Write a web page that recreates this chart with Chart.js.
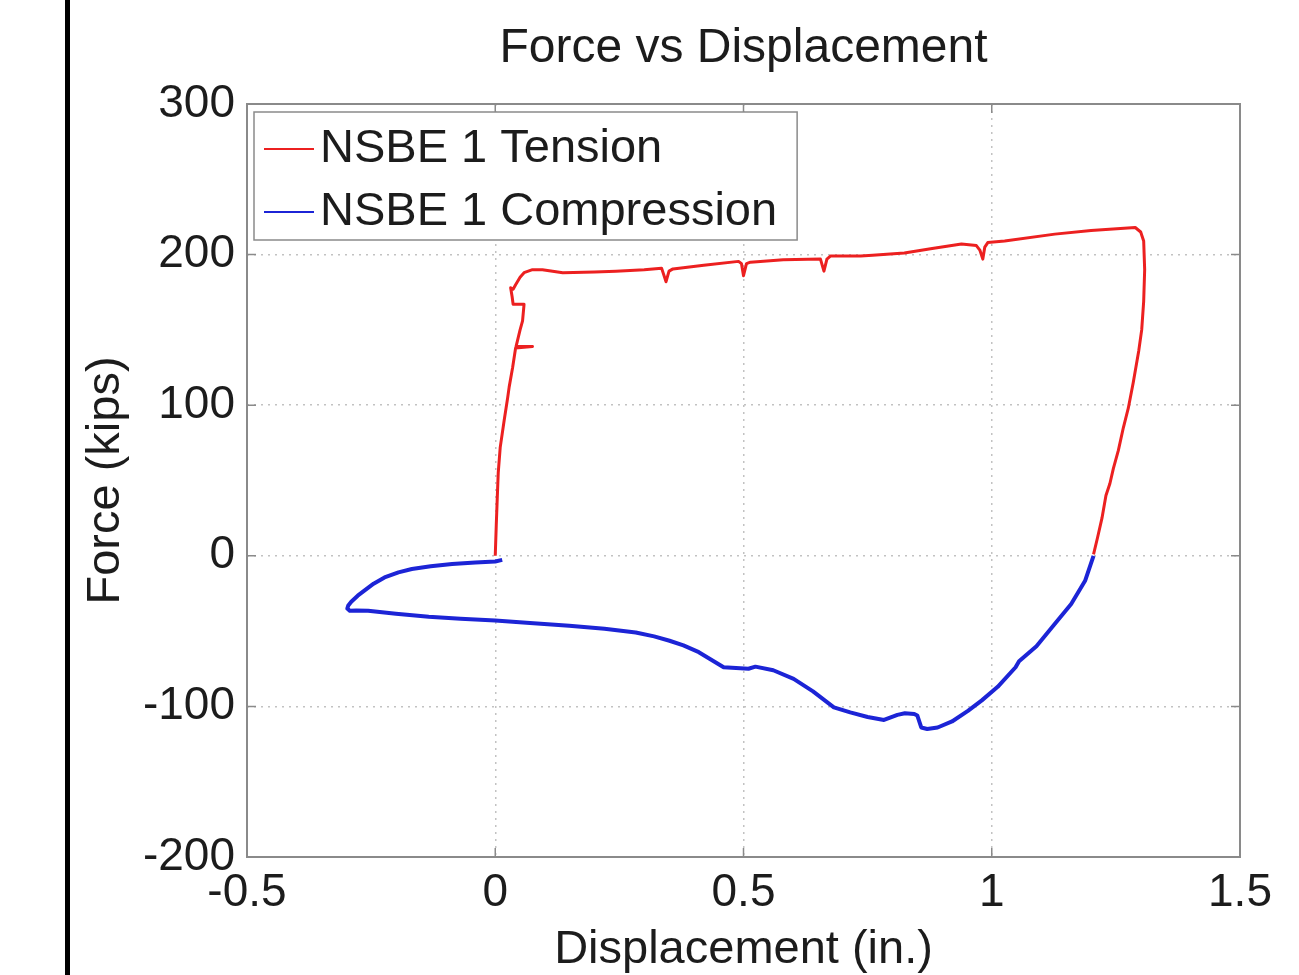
<!DOCTYPE html>
<html>
<head>
<meta charset="utf-8">
<title>Force vs Displacement</title>
<script src="https://cdn.jsdelivr.net/npm/chart.js@4.4.1/dist/chart.umd.min.js"></script>
<style>
  html,body{margin:0;padding:0;background:#fff;}
  .wrap{position:relative;width:1299px;height:975px;overflow:hidden;}
  .wrap canvas{position:absolute;left:0;top:0;}
  .edge{position:absolute;left:65px;top:0;width:5px;height:975px;background:#000;}
</style>
</head>
<body>
<div class="wrap">
  <canvas id="fd" width="1299" height="975"></canvas>
  <div class="edge"></div>
</div>
<script>
  // displacement (in.) / force (kips)
  const tensionX = [0, 0.002, 0.004, 0.006, 0.010, 0.018, 0.025, 0.028, 0.035, 0.041, 0.075, 0.042, 0.050, 0.055, 0.058, 0.036, 0.034, 0.031, 0.036, 0.041, 0.050, 0.058, 0.075, 0.095, 0.136, 0.20, 0.243, 0.30, 0.335, 0.344, 0.350, 0.358, 0.42, 0.49, 0.496, 0.500, 0.506, 0.514, 0.58, 0.655, 0.662, 0.668, 0.675, 0.736, 0.76, 0.824, 0.88, 0.939, 0.969, 0.976, 0.982, 0.986, 0.992, 1.026, 1.127, 1.20, 1.289, 1.300, 1.306, 1.308, 1.306, 1.302, 1.296, 1.285, 1.275, 1.265, 1.255, 1.245, 1.238, 1.230, 1.222, 1.213, 1.205];
  const tensionY = [0, 20, 38, 55, 72, 90, 105, 112, 125, 138, 139, 139, 150, 156, 167, 167, 172, 178, 177, 180, 185, 188, 190, 190, 188, 188.5, 189, 190, 191, 182, 189, 190.5, 193, 195.5, 194, 186, 194, 195, 196.5, 197, 189, 197, 199, 199, 199.5, 201, 204, 207, 206, 203, 197, 205, 208, 209, 213.6, 216, 218, 215, 209, 190, 169, 150, 136, 115, 98, 85, 70, 58, 48, 40, 25, 12, 1];

  const compressionX = [1.205, 1.188, 1.16, 1.121, 1.09, 1.055, 1.048, 1.012, 0.98, 0.952, 0.92, 0.891, 0.870, 0.858, 0.850, 0.844, 0.825, 0.81, 0.783, 0.75, 0.715, 0.682, 0.64, 0.601, 0.56, 0.524, 0.51, 0.46, 0.44, 0.41, 0.379, 0.351, 0.32, 0.283, 0.22, 0.149, 0.07, 0, -0.07, -0.134, -0.2, -0.256, -0.28, -0.293, -0.298, -0.296, -0.29, -0.277, -0.263, -0.245, -0.223, -0.195, -0.168, -0.13, -0.087, -0.04, 0, 0.014];
  const compressionY = [0, -16.6, -32, -47.6, -60, -70, -74, -87, -96, -103, -110, -114, -115, -114, -106, -105, -104.5, -105.6, -109, -107, -104, -100.6, -90, -81.7, -76, -73.6, -75, -74, -70, -64, -59.5, -56.4, -53.5, -50.9, -48.5, -46.4, -44.6, -43, -41.8, -40.5, -38.5, -36.5, -36.3, -36.5, -35, -33, -30.5, -26.5, -23, -18.5, -14.4, -11, -8.8, -7, -5.5, -4.5, -3.8, -2.7];

  const seriesNames = ['NSBE 1 Tension', 'NSBE 1 Compression'];
  const xTicks = [-0.5, 0, 0.5, 1, 1.5];
  const yTicks = [-200, -100, 0, 100, 200, 300];

  const FONT = '"Liberation Sans", Arial, Helvetica, sans-serif';
  const INK = '#1c1c1c';
  const RED = 'rgb(236,32,32)';
  const BLUE = 'rgb(28,36,214)';

  const pts = (xs, ys) => xs.map((x, i) => ({ x, y: ys[i] }));

  Chart.defaults.font.family = FONT;
  Chart.defaults.color = INK;

  // matlab style axes box + inward tick marks
  const axesBox = {
    id: 'axesBox',
    afterDatasetsDraw(chart) {
      const { ctx, chartArea: a, scales } = chart;
      ctx.save();
      ctx.strokeStyle = '#8a8a8a';
      ctx.lineWidth = 2;
      ctx.setLineDash([]);
      ctx.strokeRect(a.left, a.top, a.right - a.left, a.bottom - a.top);
      ctx.lineWidth = 1.5;
      ctx.beginPath();
      xTicks.forEach(v => {
        const p = scales.x.getPixelForValue(v);
        ctx.moveTo(p, a.bottom); ctx.lineTo(p, a.bottom - 9);
        ctx.moveTo(p, a.top); ctx.lineTo(p, a.top + 9);
      });
      yTicks.forEach(v => {
        const p = scales.y.getPixelForValue(v);
        ctx.moveTo(a.left, p); ctx.lineTo(a.left + 9, p);
        ctx.moveTo(a.right, p); ctx.lineTo(a.right - 9, p);
      });
      ctx.stroke();
      ctx.restore();
    }
  };

  // boxed legend inside the upper-left of the plot
  const legendBox = {
    id: 'legendBox',
    afterDraw(chart) {
      const { ctx, chartArea: a } = chart;
      const x0 = a.left + 7, y0 = a.top + 8, rowH = 63;
      ctx.save();
      ctx.font = '47px ' + FONT;
      const tw = Math.max(...chart.data.datasets.map(d => ctx.measureText(d.label).width));
      const w = 66 + tw + 20, h = 128;
      ctx.fillStyle = '#fff';
      ctx.fillRect(x0, y0, w, h);
      ctx.strokeStyle = '#8a8a8a';
      ctx.lineWidth = 1.5;
      ctx.strokeRect(x0, y0, w, h);
      chart.data.datasets.forEach((d, i) => {
        const cy = y0 + 37 + i * rowH;
        ctx.strokeStyle = d.borderColor;
        ctx.lineWidth = 2;
        ctx.beginPath(); ctx.moveTo(x0 + 10, cy); ctx.lineTo(x0 + 60, cy); ctx.stroke();
        ctx.fillStyle = INK;
        ctx.textBaseline = 'middle';
        ctx.fillText(d.label, x0 + 66, cy);
      });
      ctx.restore();
    }
  };

  new Chart(document.getElementById('fd'), {
    type: 'scatter',
    data: {
      datasets: [
        { label: seriesNames[0], data: pts(tensionX, tensionY), showLine: true, borderColor: RED, backgroundColor: RED, borderWidth: 3, pointRadius: 0, tension: 0, borderJoinStyle: 'round' },
        { label: seriesNames[1], data: pts(compressionX, compressionY), showLine: true, borderColor: BLUE, backgroundColor: BLUE, borderWidth: 4, pointRadius: 0, tension: 0, borderJoinStyle: 'round' }
      ]
    },
    options: {
      responsive: false,
      animation: false,
      layout: { padding: { left: 70, right: 59, top: 0, bottom: 0 } },
      plugins: {
        legend: { display: false },
        tooltip: { enabled: false },
        title: {
          display: true, text: 'Force vs Displacement', fullSize: false,
          font: { size: 48, weight: 'normal' }, color: INK,
          padding: { top: 20, bottom: 26.4 }
        }
      },
      scales: {
        x: {
          type: 'linear', min: -0.5, max: 1.5,
          afterBuildTicks: s => { s.ticks = xTicks.map(v => ({ value: v })); },
          afterFit: s => { s.height = 118; },
          ticks: { font: { size: 46 }, color: INK, padding: 9, maxRotation: 0, callback: v => String(v) },
          grid: { color: '#c2c2c2', lineWidth: 1.5, drawTicks: false },
          border: { display: false, dash: [2, 5] },
          title: { display: true, text: 'Displacement (in.)', font: { size: 47 }, color: INK, padding: { top: 0, bottom: -3 } }
        },
        y: {
          type: 'linear', min: -200, max: 300,
          afterBuildTicks: s => { s.ticks = yTicks.map(v => ({ value: v })); },
          afterFit: s => { s.width = 177; },
          ticks: { font: { size: 46 }, color: INK, padding: 12, callback: v => String(v) },
          grid: { color: '#c2c2c2', lineWidth: 1.5, drawTicks: false },
          border: { display: false, dash: [2, 5] },
          title: { display: true, text: 'Force (kips)', font: { size: 47 }, color: INK, padding: { top: 8, bottom: 0 } }
        }
      }
    },
    plugins: [axesBox, legendBox]
  });
</script>
</body>
</html>
